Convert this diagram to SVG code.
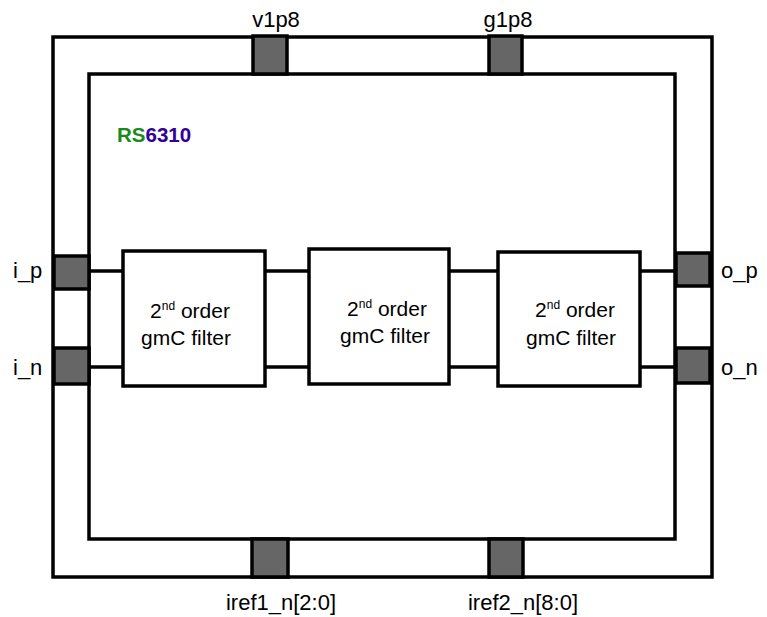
<svg xmlns="http://www.w3.org/2000/svg" width="767" height="617" viewBox="0 0 767 617">
<style>
.frame{fill:none;stroke:#000;stroke-width:3.5}
.pad{fill:#666;stroke:#000;stroke-width:3.5}
.box{fill:#fff;stroke:#000;stroke-width:3.5}
.wire{stroke:#000;stroke-width:3.5;fill:none}
text{font-family:"Liberation Sans",Arial,sans-serif;font-size:21px;fill:#000}
.lbl{font-size:22px}
.sup{font-size:12px}
</style>
<rect width="767" height="617" fill="#fff"/>
<g id="outer"><rect class="frame" x="53" y="37" width="659" height="540"/></g>
<g id="inner"><rect class="frame" x="89" y="74" width="586" height="465"/>
<text x="117" y="142" style="font-weight:bold;font-size:20.5px"><tspan style="fill:#1a8a1a">RS</tspan><tspan style="fill:#330099">6310</tspan></text></g>
<g id="connectors">
<line class="wire" x1="89" y1="271" x2="123" y2="271"/>
<line class="wire" x1="89" y1="367" x2="123" y2="367"/>
<line class="wire" x1="265" y1="271" x2="309" y2="271"/>
<line class="wire" x1="265" y1="367" x2="309" y2="367"/>
<line class="wire" x1="449" y1="271" x2="498" y2="271"/>
<line class="wire" x1="449" y1="367" x2="498" y2="367"/>
<line class="wire" x1="640" y1="271" x2="676" y2="271"/>
<line class="wire" x1="640" y1="367" x2="676" y2="367"/>
</g>
<g id="pad_v1p8"><rect class="pad" x="253" y="36" width="34" height="38"/><text class="lbl" x="276" y="27" text-anchor="middle">v1p8</text></g>
<g id="pad_g1p8"><rect class="pad" x="489" y="36" width="33" height="38"/><text class="lbl" x="508" y="27" text-anchor="middle">g1p8</text></g>
<g id="pad_i_p"><rect class="pad" x="54" y="256" width="35" height="33"/><text class="lbl" x="13" y="278">i_p</text></g>
<g id="pad_i_n"><rect class="pad" x="54" y="348" width="35" height="36"/><text class="lbl" x="13" y="375">i_n</text></g>
<g id="pad_o_p"><rect class="pad" x="676" y="253" width="34" height="33"/><text class="lbl" x="721" y="278">o_p</text></g>
<g id="pad_o_n"><rect class="pad" x="676" y="348" width="34" height="35"/><text class="lbl" x="721" y="375">o_n</text></g>
<g id="pad_iref1"><rect class="pad" x="252" y="539" width="36" height="38"/><text class="lbl" x="281" y="610" text-anchor="middle">iref1_n[2:0]</text></g>
<g id="pad_iref2"><rect class="pad" x="489" y="539" width="34" height="38"/><text class="lbl" x="523" y="610" text-anchor="middle">iref2_n[8:0]</text></g>
<g id="filter1"><rect class="box" x="123" y="251" width="142" height="135"/>
<text x="190" y="318" text-anchor="middle">2<tspan class="sup" dy="-8">nd</tspan><tspan dy="8"> order</tspan></text>
<text x="186" y="345" text-anchor="middle">gmC filter</text></g>
<g id="filter2"><rect class="box" x="309" y="249" width="140" height="135"/>
<text x="387" y="316" text-anchor="middle">2<tspan class="sup" dy="-8">nd</tspan><tspan dy="8"> order</tspan></text>
<text x="385" y="343" text-anchor="middle">gmC filter</text></g>
<g id="filter3"><rect class="box" x="498" y="252" width="142" height="134"/>
<text x="575" y="317" text-anchor="middle">2<tspan class="sup" dy="-8">nd</tspan><tspan dy="8"> order</tspan></text>
<text x="571" y="345" text-anchor="middle">gmC filter</text></g>
</svg>
